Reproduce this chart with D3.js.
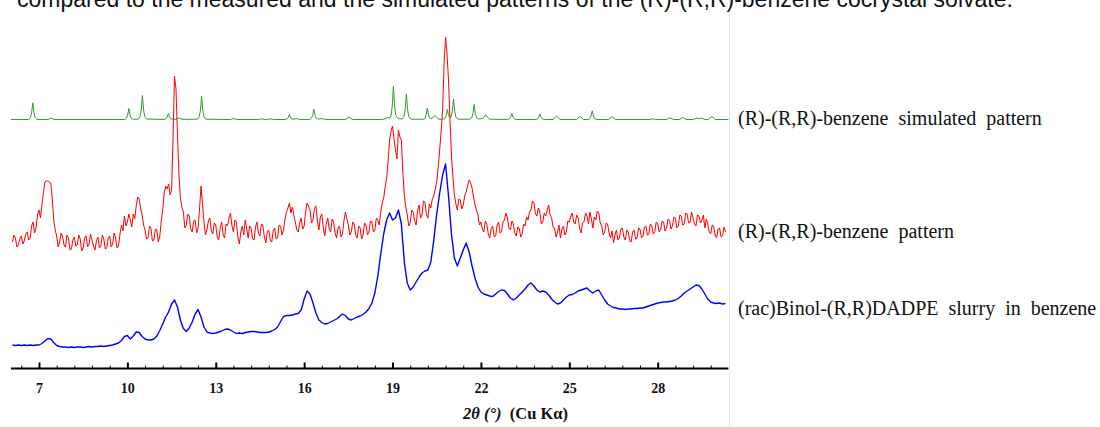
<!DOCTYPE html>
<html>
<head>
<meta charset="utf-8">
<script src="https://cdn.jsdelivr.net/npm/d3@7"></script>
<style>
  body { margin: 0; background: #fff; }
  svg { display: block; }
</style>
</head>
<body>
<svg id="chart" width="1100" height="427"></svg>
<script>
// Powder diffraction scans: 2θ starts at 6.1°, fixed step per scan (degrees)
const scanStart = 6.1;
const slurryStep = 0.1;
const measuredStep = 0.05;

// (rac)Binol-(R,R)DADPE slurry in benzene, relative intensity
const slurryIntensity = [
  14, 13.5, 14, 13.5, 14, 13.5, 14, 13.5, 14, 14,
  15.5, 18, 20.5, 20, 16.5, 13.5, 12.5, 12, 12, 11.5,
  12, 11.5, 12, 12, 11.5, 12, 12.5, 12, 12.5, 12.5,
  13, 12.5, 13, 13.5, 14, 15, 16, 18.5, 22.5, 23.5,
  20, 23, 27, 26.5, 22.5, 20, 19, 19, 20, 23,
  28.5, 35, 42, 47, 55, 59, 52, 39, 30.5, 27.5,
  31, 37, 45, 49.5, 42, 32, 27, 26, 25.5, 26,
  27, 28, 29.5, 30, 29, 27, 25.5, 26, 25.5, 26.5,
  27, 27.5, 27.5, 27, 26.5, 26.5, 26.5, 27, 28, 29.5,
  32, 37.5, 42.5, 43.5, 43.5, 44, 45, 45.5, 49, 60,
  68, 65, 56, 46, 39, 36.5, 35, 35.5, 37, 38.5,
  40, 42.5, 45, 43.5, 40, 39, 40.5, 42, 43, 44.5,
  47, 50.5, 56, 66, 83, 105, 125, 139, 146, 139,
  141, 149, 135, 97, 76, 69, 72, 77, 82, 86,
  88, 89, 97, 119, 145, 166, 184, 195, 163, 125,
  101, 93, 101, 109, 116, 107, 93, 81, 72, 67,
  65, 64, 63, 62.5, 65, 67.5, 69, 68.5, 65, 61,
  59, 61, 64, 67, 70, 74, 76, 73, 69, 67,
  68, 67, 64, 60, 57, 55, 56, 59, 62, 64,
  64.5, 66, 68, 69, 70, 71, 68, 66, 68, 69,
  64, 59, 55, 53, 51.5, 51, 50, 50, 49.5, 50,
  50, 50.5, 50.5, 51, 51, 52, 53, 54, 55, 56,
  56.5, 57, 57, 57.5, 58, 59, 60.5, 63, 66, 68,
  70, 72, 74, 73.5, 70, 65, 60, 57, 56, 55.5,
  56, 55, 55.5
];

// (R)-(R,R)-benzene measured pattern, relative intensity (one row per degree)
const measuredIntensity = [
  17, 24, 21, 12, 14, 20, 23, 15, 18, 25, 27, 19, 21, 33, 37, 26, 31, 44, 49, 41,
  54, 66, 77, 78, 78, 77, 76, 60, 39, 29, 23, 12, 17, 26, 23, 14, 12, 24, 21, 9,
  10, 19, 22, 13, 14, 24, 20, 8, 11, 21, 23, 12, 15, 25, 19, 13, 9, 18, 22, 11,
  13, 24, 20, 10, 11, 21, 23, 12, 15, 26, 21, 11, 13, 25, 34, 28, 43, 33, 37, 45,
  39, 32, 45, 40, 53, 62, 60, 51, 44, 34, 29, 20, 21, 33, 31, 18, 19, 30, 29, 17,
  23, 38, 49, 66, 73, 70, 75, 64, 69, 120, 183, 170, 124, 85, 61, 52, 47, 31, 34, 45,
  43, 30, 27, 38, 39, 26, 31, 50, 73, 55, 37, 24, 29, 38, 41, 28, 25, 36, 34, 22,
  19, 31, 37, 24, 21, 35, 33, 41, 46, 33, 27, 39, 37, 22, 15, 27, 33, 24, 39, 30,
  21, 33, 31, 20, 19, 32, 37, 26, 23, 35, 33, 22, 16, 27, 29, 19, 17, 28, 31, 20,
  21, 34, 33, 24, 29, 40, 47, 51, 56, 46, 52, 44, 37, 29, 27, 36, 41, 30, 33, 47,
  56, 53, 49, 36, 39, 51, 53, 38, 29, 42, 45, 31, 23, 35, 41, 30, 27, 40, 37, 26,
  21, 31, 33, 22, 25, 38, 47, 40, 34, 24, 27, 37, 35, 24, 21, 33, 31, 20, 24, 36,
  34, 24, 27, 38, 37, 27, 29, 41, 39, 34, 47, 56, 61, 72, 81, 98, 119, 128, 133, 120,
  109, 100, 129, 122, 119, 86, 64, 52, 44, 33, 36, 49, 47, 38, 34, 48, 54, 41, 44, 58,
  57, 45, 41, 55, 51, 60, 63, 70, 77, 92, 109, 128, 149, 196, 222, 205, 179, 140, 104, 82,
  64, 55, 49, 60, 59, 50, 54, 63, 67, 74, 79, 76, 71, 62, 54, 49, 44, 34, 37, 30,
  27, 38, 35, 25, 21, 31, 33, 22, 23, 34, 37, 26, 27, 37, 39, 46, 41, 31, 29, 38,
  35, 26, 23, 32, 31, 22, 25, 35, 33, 42, 39, 47, 49, 58, 56, 45, 43, 51, 47, 35,
  37, 46, 43, 49, 54, 44, 41, 32, 31, 22, 27, 34, 21, 30, 33, 24, 27, 38, 37, 43,
  46, 37, 35, 44, 41, 31, 26, 36, 37, 46, 43, 35, 47, 40, 31, 42, 39, 48, 46, 36,
  33, 24, 27, 36, 35, 26, 21, 28, 16, 24, 29, 19, 21, 30, 31, 22, 19, 29, 27, 18,
  17, 27, 29, 20, 21, 31, 30, 21, 23, 32, 33, 24, 25, 35, 33, 25, 27, 37, 35, 27,
  29, 38, 37, 28, 31, 40, 39, 30, 33, 42, 41, 31, 33, 44, 43, 34, 35, 46, 45, 36,
  37, 47, 41, 35, 33, 44, 43, 36, 39, 44, 31, 40, 35, 27, 25, 34, 33, 24, 21, 30,
  31, 22, 23, 32, 27
];

// (R)-(R,R)-benzene simulated pattern: [2θ, relative intensity]
const simulatedPattern = [
  [6.05,0],[6.65,0],[6.71,2],[6.75,6.7],[6.79,16.7],[6.83,6.7],[6.87,2],[6.93,0],
  [7.31,0],[7.41,1.5],[7.51,0],
  [9.91,0],[9.97,1.3],[10.01,4.4],[10.05,11],[10.09,4.4],[10.13,1.3],[10.2,0.3],
  [10.37,0.3],[10.43,2.9],[10.47,9.6],[10.51,24],[10.55,9.6],[10.59,2.9],[10.65,0.5],
  [11.25,0],[11.31,0.7],[11.35,2.4],[11.39,6],[11.43,2.4],[11.47,0.7],[11.55,0.2],
  [11.65,0.2],[11.75,1.5],[11.85,0.2],
  [12.38,0.3],[12.44,2.8],[12.48,9.2],[12.52,23],[12.56,9.2],[12.6,2.8],[12.66,0.3],
  [13.5,0],[13.6,1],[13.7,0],
  [14.46,0],[14.56,0.7],[14.66,0],[14.76,0],[14.86,0.7],[14.96,0],
  [15.36,0],[15.42,0.6],[15.46,2],[15.5,5],[15.54,2],[15.58,0.6],[15.65,0.3],[15.75,1],[15.85,0],
  [16.19,0],[16.25,1.3],[16.29,4.2],[16.33,10.5],[16.37,4.2],[16.41,1.3],[16.5,0.3],[16.62,1],[16.72,0],
  [17.4,0],[17.52,2.5],[17.64,0],
  [18.6,0],[18.74,0.6],[18.84,2],[18.92,1.6],[18.95,4],[18.99,13.4],[19.03,33.5],[19.07,13.4],[19.11,4],[19.19,0.8],
  [19.33,0.6],[19.39,3.1],[19.43,10.2],[19.47,25.5],[19.51,10.2],[19.55,3.1],[19.63,0.3],
  [20.04,0.2],[20.1,1.4],[20.14,4.6],[20.18,11.5],[20.22,4.6],[20.26,1.4],[20.33,0.8],[20.45,4],[20.56,0.4],
  [20.72,0.3],[20.78,1.2],[20.82,4],[20.86,10],[20.9,4],[20.95,2],[20.99,2.5],[21.03,8.2],[21.07,20.5],[21.11,8.2],[21.15,2.5],[21.22,0.3],
  [21.63,0.3],[21.69,1.8],[21.73,6],[21.77,15],[21.81,6],[21.85,1.8],[21.93,0.5],[22.04,1],[22.1,2.2],[22.16,4.7],[22.22,2.2],[22.3,0.3],
  [22.91,0],[22.97,0.8],[23.01,2.4],[23.05,6],[23.09,2.4],[23.13,0.8],[23.2,0],
  [23.86,0],[23.92,0.8],[23.96,2.3],[24.0,5.7],[24.04,2.3],[24.08,0.8],[24.16,0],
  [24.45,0],[24.57,3.5],[24.69,0],
  [25.24,0],[25.36,3],[25.48,0],
  [25.64,0],[25.7,1],[25.74,3.5],[25.78,8.7],[25.82,3.5],[25.86,1],[25.94,0],
  [26.32,0],[26.44,3],[26.56,0],
  [27.73,0],[27.83,0.7],[27.93,0],
  [28.3,0],[28.42,1.7],[28.54,0],
  [28.73,0],[28.85,2],[28.97,0],
  [29.21,0],[29.33,1.5],[29.41,0.8],[29.5,1.5],[29.6,0],
  [29.72,0],[29.84,3],[29.96,0],
  [30.4,0]
];

const seriesNames = [
  "(R)-(R,R)-benzene  simulated  pattern",
  "(R)-(R,R)-benzene  pattern",
  "(rac)Binol-(R,R)DADPE  slurry  in  benzene"
];
const seriesColors = ["#2f9a2f", "#ff0000", "#0000ff"];

const majorTicks = [7, 10, 13, 16, 19, 22, 25, 28];
const minorTicks = [6.4, 7.6, 8.2, 8.8, 9.4, 10.6, 11.2, 11.8, 12.4, 13.6, 14.2, 14.8, 15.4,
  16.6, 17.2, 17.8, 18.4, 19.6, 20.2, 20.8, 21.4, 22.6, 23.2, 23.8, 24.4, 25.6, 26.2, 26.8,
  27.4, 28.6, 29.2, 29.8];

const captionText = "compared to the measured and the simulated patterns of the (R)-(R,R)-benzene cocrystal solvate.";

// ---- drawing ----
const svg = d3.select("#chart");
const serif = "'Liberation Serif', 'Times New Roman', serif";

const x = d3.scaleLinear().domain([6.05, 30.4]).range([11, 728.4]);
const y = d3.scaleLinear().domain([0, 340]).range([369, 29]);

// vertical stacking of the three patterns
const stackOffset = { simulated: 249.5, measured: 110, slurry: 10 };

// page edge of the figure
svg.append("line")
  .attr("x1", 729.5).attr("x2", 729.5).attr("y1", 0).attr("y2", 427)
  .attr("stroke", "#e4e4e4").attr("stroke-width", 1);

// caption line running off the top edge of the page
svg.append("text")
  .attr("x", 17).attr("y", 7)
  .attr("font-family", "'Liberation Sans', Arial, sans-serif")
  .attr("font-size", 23)
  .attr("fill", "#111")
  .text(captionText);

const slurryPts = slurryIntensity.map((v, i) => [scanStart + i * slurryStep, v + stackOffset.slurry]);
const measuredPts = measuredIntensity.map((v, i) => [scanStart + i * measuredStep, v + stackOffset.measured]);
const simulatedPts = simulatedPattern.map(d => [d[0], d[1] + stackOffset.simulated]);

const line = d3.line().x(d => x(d[0])).y(d => y(d[1]));

const plot = svg.append("g");
plot.append("path").datum(simulatedPts)
  .attr("d", line).attr("fill", "none")
  .attr("stroke", seriesColors[0]).attr("stroke-width", 1).attr("stroke-linejoin", "round");
plot.append("path").datum(measuredPts)
  .attr("d", line).attr("fill", "none")
  .attr("stroke", seriesColors[1]).attr("stroke-width", 1).attr("stroke-linejoin", "round");
plot.append("path").datum(slurryPts)
  .attr("d", line).attr("fill", "none")
  .attr("stroke", seriesColors[2]).attr("stroke-width", 1.4).attr("stroke-linejoin", "round");

// x axis: minor ticks, then major ticks with labels
const axisY = 368.5;
const minorAxis = d3.axisBottom(x).tickValues(minorTicks).tickSize(-3).tickSizeOuter(0).tickFormat("");
const gMinor = svg.append("g").attr("transform", `translate(0,${axisY})`).call(minorAxis);
gMinor.select(".domain").remove();
gMinor.selectAll(".tick line").attr("stroke", "#000").attr("stroke-width", 1);

const majorAxis = d3.axisBottom(x).tickValues(majorTicks).tickSize(-6).tickSizeOuter(0).tickPadding(15)
  .tickFormat(d3.format("d"));
const gMajor = svg.append("g").attr("transform", `translate(0,${axisY})`).call(majorAxis);
gMajor.select(".domain").attr("stroke", "#000").attr("stroke-width", 2.2)
  .attr("d", `M${x.range()[0]},0H${x.range()[1]}`);
gMajor.selectAll(".tick line").attr("stroke", "#000").attr("stroke-width", 2);
gMajor.selectAll(".tick text")
  .attr("font-family", serif)
  .attr("font-size", 14).attr("font-weight", "bold").attr("fill", "#111");

// axis title
const title = svg.append("text")
  .attr("x", 463).attr("y", 419)
  .attr("font-family", serif)
  .attr("font-size", 16.5).attr("font-weight", "bold").attr("fill", "#111")
  .style("white-space", "pre");
title.append("tspan").attr("font-style", "italic").text("2θ (°)");
title.append("tspan").text("  (Cu Kα)");

// series names at the right
const labelY = [125, 238, 315];
svg.selectAll("text.series")
  .data(seriesNames)
  .join("text")
  .attr("class", "series")
  .attr("x", 738)
  .attr("y", (d, i) => labelY[i])
  .attr("font-family", serif)
  .attr("font-size", 20)
  .attr("fill", "#111")
  .style("white-space", "pre")
  .text(d => d);
</script>
</body>
</html>
